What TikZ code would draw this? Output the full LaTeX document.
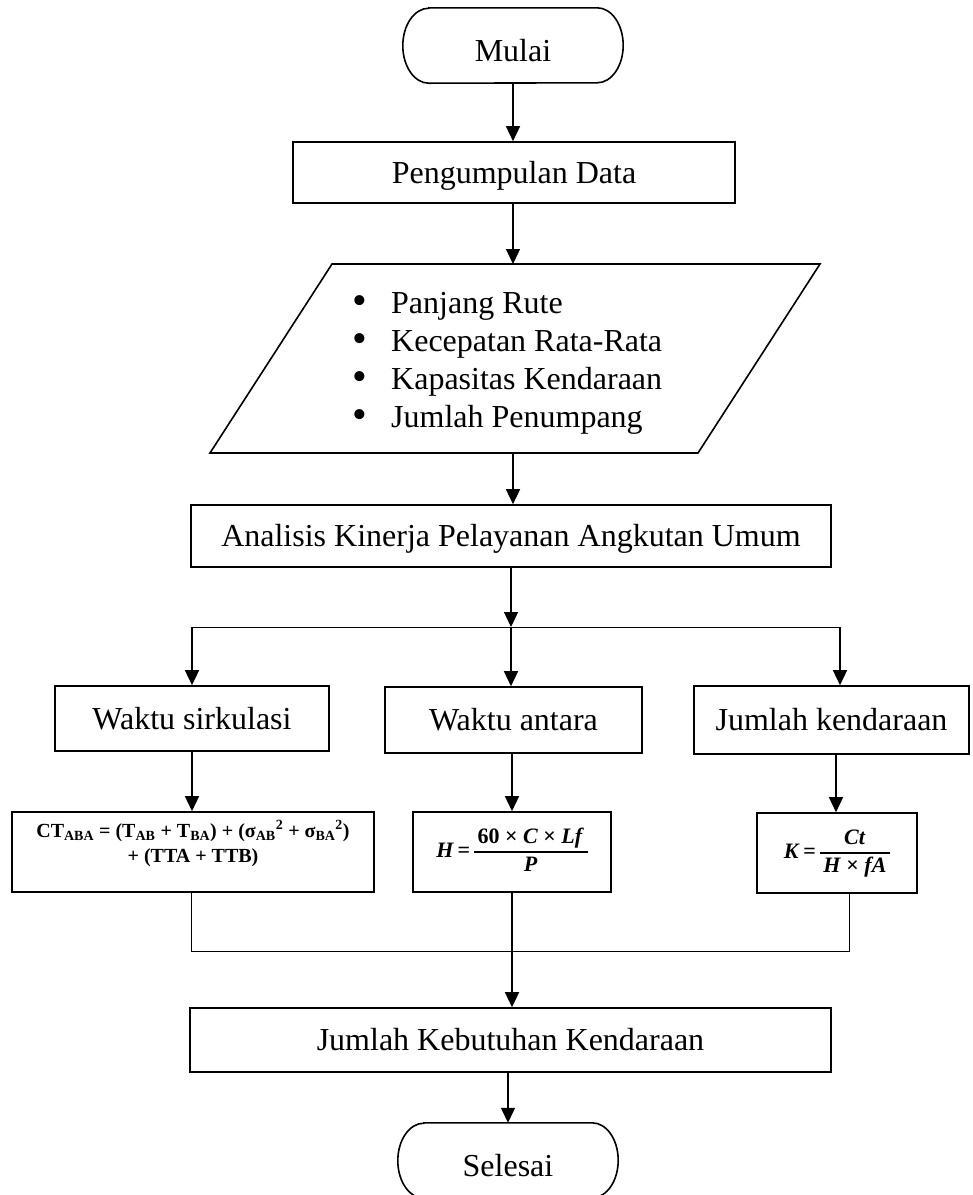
\documentclass[tikz,border=0pt]{standalone}
\usepackage{fontspec}
\setmainfont{Liberation Serif}
\usetikzlibrary{arrows.meta,calc}
\newcommand\formulaCT{CT\textsubscript{ABA} = (T\textsubscript{AB} + T\textsubscript{BA}) + (σ\textsubscript{AB}\textsuperscript{2} + σ\textsubscript{BA}\textsuperscript{2})\\+ (TTA + TTB)}
\newcommand\myfrac[2]{{\setlength\arrayrulewidth{1.6pt}\renewcommand\arraystretch{1.05}\begin{tabular}{@{\,}c@{\,}}#1\\\hline #2\end{tabular}}}
\newcommand\formulaH{\textbf{\textit{H}\,=\,}\myfrac{\textbf{60 × \textit{C} × \textit{Lf}}}{\textbf{\textit{P}}}}
\newcommand\formulaK{\textbf{\textit{K}\,=\,}\myfrac{\textbf{\textit{Ct}}}{\textbf{\textit{H} × \textit{fA}}}}
\newcommand\bulletitem[1]{\makebox[0pt][r]{\raisebox{-1.5pt}{\fontsize{42}{42}\selectfont\textbullet}\hspace{24pt}}#1}
\begin{document}
\begin{tikzpicture}[x=1pt,y=-1pt,
  boxline/.style={line width=1.6pt},
  procbox/.style={draw, line width=1.6pt, inner sep=0pt, text height=28pt, text depth=7pt,
    font={\fontsize{32}{38}\selectfont}},
  formbox/.style={draw, line width=1.6pt, inner sep=0pt, minimum height=80pt},
  mathbox/.style={formbox, font={\fontsize{22}{26}\selectfont}},
  ctfont/.style={inner sep=0pt, align=center, font={\bfseries\fontsize{20}{25}\selectfont}},
  termnode/.style={inner sep=0pt, text height=38pt, text depth=7pt,
    minimum width=220pt, minimum height=75pt, font={\fontsize{32}{38}\selectfont}},
  itemtext/.style={inner sep=0pt, anchor=base west, font={\fontsize{32}{38}\selectfont}},
  arr/.style={line width=1.4pt, -{Triangle[length=15pt,width=14pt]}},
  thinline/.style={line width=1pt}]
\clip (0,0) rectangle (973,1195);
\fill[white] (0,0) rectangle (973,1195);

% terminals
\node[termnode] (mulai) at (513,45.5) {Mulai};
\draw[boxline] ([xshift=26pt]mulai.north west) -- ([xshift=-26pt]mulai.north east)
  arc[start angle=90,end angle=-90,x radius=26pt,y radius=37.5pt]
  -- ([xshift=26pt]mulai.south west)
  arc[start angle=270,end angle=90,x radius=26pt,y radius=37.5pt] -- cycle;

\node[termnode] (sel) at (508,1160.5) {Selesai};
\draw[boxline] ([xshift=26pt]sel.north west) -- ([xshift=-26pt]sel.north east)
  arc[start angle=90,end angle=-90,x radius=26pt,y radius=37.5pt]
  -- ([xshift=26pt]sel.south west)
  arc[start angle=270,end angle=90,x radius=26pt,y radius=37.5pt] -- cycle;

% process boxes
\node[procbox, minimum width=442pt, minimum height=61pt] (peng) at (514,172.5) {Pengumpulan Data};
\node[procbox, minimum width=640pt, minimum height=62pt] (anal) at (511,536) {Analisis Kinerja Pelayanan Angkutan Umum};
\node[procbox, minimum width=274pt, minimum height=65pt] (ws) at (192,718.5) {Waktu sirkulasi};
\node[procbox, minimum width=257pt, minimum height=66pt] (wa) at (513.5,720) {Waktu antara};
\node[procbox, minimum width=275pt, minimum height=68pt] (jk) at (831.5,720) {Jumlah kendaraan};
\node[procbox, minimum width=641pt, minimum height=64pt] (jkk) at (510.5,1040) {Jumlah Kebutuhan Kendaraan};

% parallelogram
\coordinate (pTL) at (332,264);
\coordinate (pTR) at (820,264);
\coordinate (pBR) at (698,453);
\coordinate (pBL) at (210,453);
\draw[boxline] (pTL) -- (pTR) -- (pBR) -- (pBL) -- cycle;
\coordinate (ptop) at (513,264);
\coordinate (pbot) at (513,453);
\node[itemtext] (i1) at (391,313) {\bulletitem{Panjang Rute}};
\node[itemtext] (i2) at (391,351) {\bulletitem{Kecepatan Rata-Rata}};
\node[itemtext] (i3) at (391,389) {\bulletitem{Kapasitas Kendaraan}};
\node[itemtext] (i4) at (391,427) {\bulletitem{Jumlah Penumpang}};

% formula boxes
\node[formbox, minimum width=362pt] (f1) at (193,852) {};
\node[ctfont] (f1t) at (193,843.5) {\formulaCT};
\node[mathbox, minimum width=198pt] (f2) at (512,852) {\formulaH};
\node[mathbox, minimum width=160pt] (f3) at (837,853) {\formulaK};

% connectors
\draw[arr] (mulai.south) -- (mulai.south |- peng.north);
\draw[arr] (peng.south -| ptop) -- (ptop);
\draw[arr] (pbot) -- (pbot |- anal.north);
\coordinate (sm) at (511,627);
\coordinate (sl) at (192,627);
\coordinate (sr) at (840,627);
\draw[arr] (anal.south -| sm) -- (sm);
\draw[thinline] (sl) -- (sr);
\draw[arr] (sl) -- (sl |- ws.north);
\draw[arr] (sm) -- (sm |- wa.north);
\draw[arr] (sr) -- (sr |- jk.north);
\draw[arr] (ws.south) -- (ws.south |- f1.north);
\draw[arr] (wa.south -| f2.north) -- (f2.north);
\coordinate (r3) at (836,800);
\draw[arr] (jk.south -| r3) -- (f3.north -| r3);
\coordinate (ml) at (191,951);
\coordinate (mr) at (849,951);
\draw[thinline] (f1.south -| ml) -- (ml) -- (mr) -- (mr |- f3.south);
\draw[arr] (f2.south) -- (f2.south |- jkk.north);
\draw[arr] (jkk.south -| sel.north) -- (sel.north);
\end{tikzpicture}
\end{document}
